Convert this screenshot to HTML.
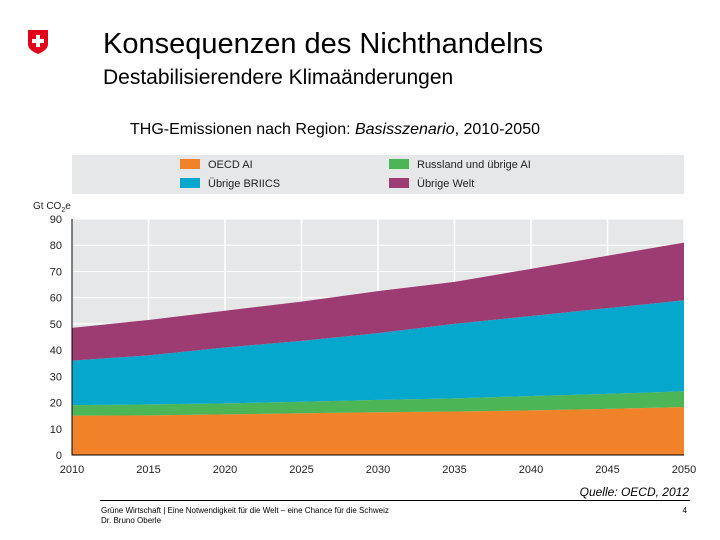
<!DOCTYPE html>
<html><head><meta charset="utf-8"><style>
body{margin:0;width:720px;height:540px;background:#fff;font-family:"Liberation Sans",sans-serif;overflow:hidden;position:relative}
.t{position:absolute;white-space:nowrap}
</style></head><body>
<svg style="position:absolute;left:27px;top:30px" width="22" height="24" viewBox="0 0 22 24">
<path d="M1 0H21V14Q21 20 11 24Q1 20 1 14Z" fill="#e2001a"/>
<rect x="9" y="5" width="4" height="12" fill="#fff"/><rect x="5" y="9" width="12" height="4" fill="#fff"/></svg>
<div class="t" style="left:103px;top:28px;font-size:29px;color:#000">Konsequenzen des Nichthandelns</div>
<div class="t" style="left:103px;top:66px;font-size:21px">Destabilisierendere Klimaänderungen</div>
<div class="t" style="left:130px;top:121px;font-size:16px">THG-Emissionen nach Region: <i>Basisszenario</i>, 2010-2050</div>
<svg id="chart" style="position:absolute;left:0;top:0" width="720" height="540"></svg>
<div class="t" style="right:31px;top:485px;font-size:12px"><i>Quelle: OECD, 2012</i></div>
<div style="position:absolute;left:100px;top:500px;width:590px;height:1px;background:#000"></div>
<div class="t" style="left:101px;top:506px;font-size:8px;line-height:10px">Grüne Wirtschaft | Eine Notwendigkeit für die Welt – eine Chance für die Schweiz<br>Dr. Bruno Oberle</div>
<div class="t" style="right:33px;top:506px;font-size:8px">4</div>
<script>
const years=[2010,2015,2020,2025,2030,2035,2040,2045,2050];
const oecd=[15,15.1,15.5,15.9,16.3,16.6,17,17.6,18.3];
const russland=[4,4.2,4.2,4.4,4.7,5,5.5,5.7,6];
const briics=[17,18.7,21.3,23.2,25.5,28.4,30.5,32.7,34.7];
const welt=[12.5,13.5,14,15,16,16,18,20,22];
const yTicks=[0,10,20,30,40,50,60,70,80,90];
const xTicks=[2010,2015,2020,2025,2030,2035,2040,2045,2050];
const NS="http://www.w3.org/2000/svg",svg=document.getElementById('chart');
const X0=72,X1=684,Y0=455,Y1=219;
const x=v=>X0+(v-2010)/40*(X1-X0), y=v=>Y0-v/90*(Y0-Y1);
function mk(t,a){const e=document.createElementNS(NS,t);for(const k in a)e.setAttribute(k,a[k]);svg.appendChild(e);return e;}
let lg=mk('rect',{x:72,y:155,width:612,height:39,fill:'#e6e7e8'});


let bg=mk('rect',{x:X0,y:Y1,width:X1-X0,height:Y0-Y1,fill:'#e6e7e8'});


yTicks.forEach(t=>{let l=mk('line',{x1:X0,x2:X1,y1:y(t),y2:y(t),stroke:'#fff','stroke-width':1});


let tx=mk('text',{x:62,y:y(t)+4,'text-anchor':'end','font-size':11,fill:'#222'});tx.textContent=t;

});
xTicks.forEach(t=>{let l=mk('line',{x1:x(t),x2:x(t),y1:Y1,y2:Y0,stroke:'#fff','stroke-width':1.5});


let tx=mk('text',{x:x(t),y:473,'text-anchor':'middle','font-size':11,fill:'#222'});tx.textContent=t;

});
const series=[[oecd,'#f0822a','area-oecd'],[russland,'#4cb657','area-russland'],[briics,'#05a7cc','area-briics'],[welt,'#9d3c72','area-uebrige-welt']];
let base=years.map(()=>0);
series.forEach(([d,c,n])=>{const top=base.map((b,i)=>b+d[i]);
let p='M'+years.map((yr,i)=>x(yr)+','+y(top[i])).join('L');
for(let i=years.length-1;i>=0;i--)p+='L'+x(years[i])+','+y(base[i]);
let e=mk('path',{d:p+'Z',fill:c});


base=top;});
let ax=mk('path',{d:`M${X0},${Y1}V${Y0}H${X1}`,stroke:'#000',fill:'none','stroke-width':1});


let un=mk('text',{x:33,y:209,'font-size':10,fill:'#222'});un.innerHTML='Gt CO<tspan font-size="7" dy="3">2</tspan><tspan dy="-3">e</tspan>';


[['OECD AI','#f0822a',180,165],['Übrige BRIICS','#05a7cc',180,184],['Russland und übrige AI','#4cb657',389,165],['Übrige Welt','#9d3c72',389,184]].forEach(([t,c,lx,ly])=>{
let r=mk('rect',{x:lx,y:ly-6,width:20,height:10,fill:c});


let tx=mk('text',{x:lx+28,y:ly+3,'font-size':11,fill:'#222'});tx.textContent=t;

});
</script>
</body></html>
